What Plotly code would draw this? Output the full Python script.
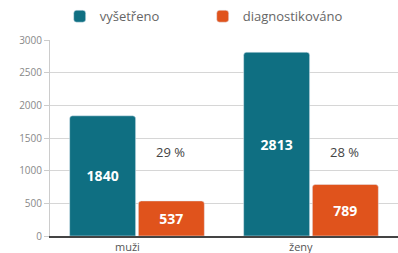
import plotly.graph_objects as go

categories = ["muži", "ženy"]
vysetreno = [1840, 2813]
diagnostikovano = [537, 789]
percent_labels = ["29 %", "28 %"]
y_ticks = [0, 500, 1000, 1500, 2000, 2500, 3000]

teal = "#0f6f82"
orange = "#e0531c"

fig = go.Figure()
fig.add_trace(go.Bar(
    x=categories, y=vysetreno, name="vyšetřeno", marker_color=teal,
    text=[str(v) for v in vysetreno], textposition="inside", insidetextanchor="middle",
    textfont=dict(color="white", size=14, family="Open Sans", weight="bold"),
))
fig.add_trace(go.Bar(
    x=categories, y=diagnostikovano, name="diagnostikováno", marker_color=orange,
    text=[str(v) for v in diagnostikovano], textposition="inside", insidetextanchor="middle",
    textfont=dict(color="white", size=14, family="Open Sans", weight="bold"),
))

for i, lab in enumerate(percent_labels):
    fig.add_annotation(x=i, xref="x", xshift=33, y=1290, yref="y", text=lab,
                       showarrow=False, font=dict(size=13, color="#444", family="Open Sans"))

for i, cat in enumerate(categories):
    fig.add_annotation(x=i, xref="x", xshift=-10, y=0, yref="y", yanchor="top", yshift=-1,
                       text=cat, showarrow=False,
                       font=dict(size=11, color="#555", family="Open Sans"))

fig.update_layout(
    width=398, height=253,
    margin=dict(l=50, r=0, t=40, b=17, autoexpand=False),
    paper_bgcolor="white", plot_bgcolor="white",
    barmode="group", bargap=0.21, bargroupgap=0.04,
    barcornerradius=3,
    font=dict(family="Open Sans", color="#555"),
    legend=dict(orientation="h", xref="container", yref="container", x=0.15, y=0.995,
                yanchor="top", xanchor="left",
                font=dict(size=13, color="#666"), entrywidth=98, entrywidthmode="pixels"),
    uniformtext=dict(minsize=8),
    xaxis=dict(showgrid=False, showticklabels=False, ticks="",
               showline=True, linecolor="#444", linewidth=2),
    yaxis=dict(range=[0, 3000], tickvals=y_ticks, showgrid=True, gridcolor="#d6d6d6",
               tickfont=dict(size=10, color="#888"), showline=True, linecolor="#cccccc",
               zeroline=False, ticks="outside", ticklen=5, tickcolor="#ccc"),
)

fig.write_html("out.html", config={"displayModeBar": False},
               post_script="document.body.style.margin='0';document.body.style.overflow='hidden';")
